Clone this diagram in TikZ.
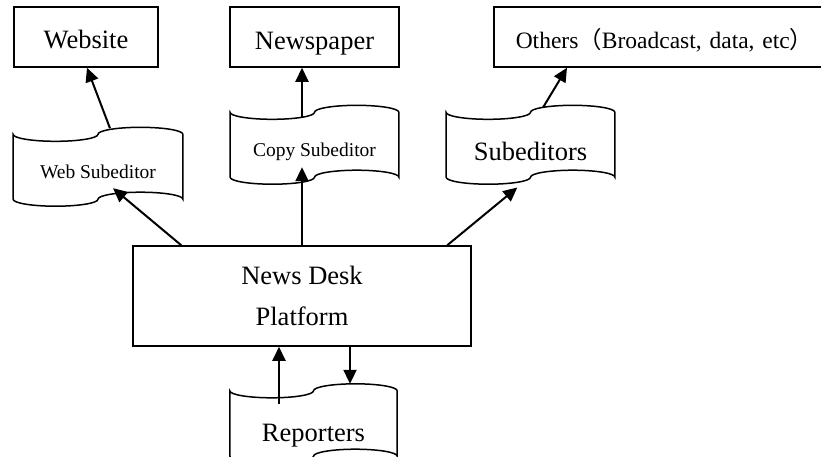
\documentclass[tikz,border=0pt]{standalone}
\usepackage{fontspec}
\setmainfont{Liberation Serif}
\newfontfamily\cjkparen{Noto Sans CJK SC}
\usetikzlibrary{arrows.meta,calc}

% Punched-tape outline around an (invisible) node: wavy top and bottom edges
\newcommand\tapeoutline[2]{%
  \draw[outline] let \p1=(#1.north west), \p2=(#1.south east), \n1={(\x2-\x1)/4} in
    (\p1) arc[start angle=180,end angle=360,x radius=\n1,y radius={#2 pt}]
          arc[start angle=180,end angle=0,x radius=\n1,y radius={#2 pt}]
    -- (\x2,\y2)
          arc[start angle=0,end angle=180,x radius=\n1,y radius={#2 pt}]
          arc[start angle=0,end angle=-180,x radius=\n1,y radius={#2 pt}]
    -- cycle;}

\tikzset{
  outline/.style={line width=1.5pt},
  box/.style={draw, line width=1.5pt, inner sep=0pt},
  tapebox/.style={inner sep=0pt, text depth=0pt},
  link/.style={line width=2pt, -{Triangle[length=14pt,width=13pt]}},
  big/.style={font=\fontsize{26.5}{30}\selectfont},
  small/.style={font=\fontsize{19.5}{22}\selectfont},
}

\begin{document}
\begin{tikzpicture}[x=1pt,y=1pt]
\useasboundingbox (0,0) rectangle (821,-456);
\clip (0,0) rectangle (821,-456);

% output channels
\node[box,big,minimum width=144pt,minimum height=60pt,text height=22pt,text depth=0pt]
  (website) at (86,-37) {Website};
\node[box,big,minimum width=169pt,minimum height=60pt,text height=24.6pt,text depth=0pt]
  (newspaper) at (314.5,-37) {Newspaper};
\node[box,anchor=west,inner xsep=22pt,minimum height=60pt,text width=310pt,align=left,
      text height=22.6pt,text depth=0pt,font=\fontsize{23.5}{26}\selectfont]
  (others) at (493,-37) {Others{\cjkparen （}Broadcast, data, etc{\cjkparen ）}};

% editors
\node[tapebox,small,minimum width=169.4pt,minimum height=64.5pt,text height=23.1pt]
  (websub) at (98,-166.75) {Web Subeditor};
\tapeoutline{websub}{7}
\node[tapebox,small,minimum width=168.4pt,minimum height=64.5pt,text height=23.9pt]
  (copysub) at (314.5,-144.75) {Copy Subeditor};
\tapeoutline{copysub}{7}
\node[tapebox,big,minimum width=168.4pt,minimum height=64.5pt,text height=30.5pt]
  (subeds) at (530.5,-144.75) {Subeditors};
\tapeoutline{subeds}{7}

% central platform
\node[box,align=center,minimum width=338pt,minimum height=100pt,
      font=\fontsize{26.5}{41.3}\selectfont]
  (desk) at (302,-296) {News Desk\\Platform};

% reporters
\node[tapebox,big,minimum width=167pt,minimum height=65pt,text height=36.4pt]
  (reporters) at (313.5,-423.5) {Reporters};
\tapeoutline{reporters}{7}

% flows
\draw[link] ([xshift=12pt,yshift=6pt]websub.north) -- ([xshift=1pt]website.south);
\draw[link] ([xshift=-12.5pt,yshift=-5pt]copysub.north) -- ([xshift=-12.5pt]newspaper.south);
\draw[link] ([xshift=12.5pt,yshift=4.8pt]subeds.north) -- ([xshift=74pt]others.south west);

\draw[link] ([xshift=49pt]desk.north west) -- ([xshift=15pt,yshift=11pt]websub.south);
\draw[link] (desk.north) -- ([xshift=-12.5pt,yshift=10pt]copysub.south);
\draw[link] ([xshift=315pt]desk.north west) -- ([xshift=-13.2pt,yshift=-10.3pt]subeds.south);

\draw[link] ([xshift=48pt]desk.south) -- ([xshift=36.5pt,yshift=7pt]reporters.north);
\draw[link] ([xshift=-34.5pt,yshift=-13pt]reporters.north) -- ([xshift=-23pt]desk.south);
\end{tikzpicture}
\end{document}
